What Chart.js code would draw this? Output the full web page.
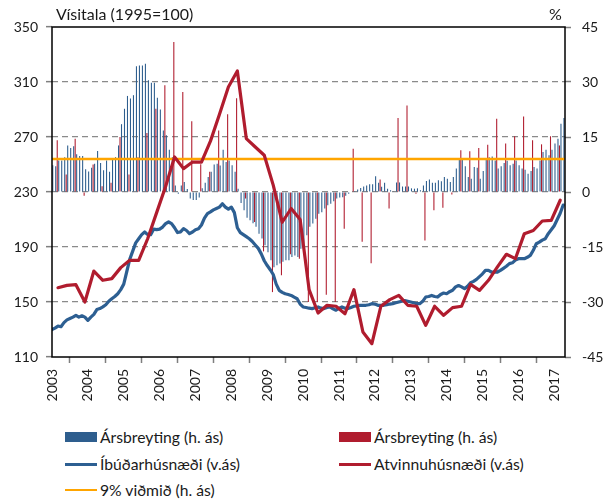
<!DOCTYPE html>
<html>
<head>
<meta charset="utf-8">
<script src="https://cdn.jsdelivr.net/npm/chart.js@4.4.0/dist/chart.umd.min.js"></script>
<style>
html,body{margin:0;padding:0;background:#fff;}
#wrap{position:relative;width:608px;height:504px;overflow:hidden;font-family:Lato,"Open Sans",sans-serif;color:#1a1a1a;}
#c{position:absolute;left:0;top:0;}
.t{position:absolute;font-size:16px;line-height:16px;white-space:nowrap;}
.leg{position:absolute;height:20px;display:flex;align-items:center;font-size:15.7px;white-space:nowrap;}
.sw{display:inline-block;width:32px;margin-right:3px;}
</style>
</head>
<body>
<div id="wrap">
  <canvas id="c" width="608" height="410" style="width:608px;height:410px"></canvas>
  <div class="t" style="left:56px;top:6px">Vísitala (1995=100)</div>
  <div class="t" style="left:549px;top:6px">%</div>

  <div class="leg" style="left:65px;top:427px"><span class="sw" style="height:10px;background:#2E5E8E"></span>Ársbreyting (h. ás)</div>
  <div class="leg" style="left:339px;top:427px"><span class="sw" style="height:10px;background:#B01C2E"></span>Ársbreyting (h. ás)</div>
  <div class="leg" style="left:65px;top:454px"><span class="sw" style="height:3px;background:#2D5F92"></span>Íbúðarhúsnæði (v.ás)</div>
  <div class="leg" style="left:339px;top:454px"><span class="sw" style="height:3px;background:#B01C2E"></span>Atvinnuhúsnæði (v.ás)</div>
  <div class="leg" style="left:65px;top:480px"><span class="sw" style="height:2px;background:#FFA500"></span>9% viðmið (h. ás)</div>
</div>
<script>
// ---- Data (monthly from Jan 2003, quarterly from Mar 2003) ----
const yearLabels = ['2003','2004','2005','2006','2007','2008','2009','2010','2011','2012','2013','2014','2015','2016','2017'];

// Residential price index (1995=100), monthly, left axis
const residentialIndex = [
  130,131,132.5,132,135,137,138,139,140.3,139,140,139,
  136.7,139,141,144.5,145.2,146.5,148,150.5,152.4,154,156,159,
  163,172,181,187,193,196,199,200.9,199,199,203,202.6,
  203,204.5,207,208.2,207,204,200.5,201,203.3,202,199.7,200.9,
  202.6,203.3,206,211,214.2,215.5,217,218,219,221.5,219,217.5,
  219,215,204,200.5,199,197.5,196,194,191.5,189,185,180,
  176.5,173.5,170,163,158.5,157,156,155.5,154.8,153.5,152.4,148.5,
  146.4,146,145.5,145.2,145.8,146.4,145.5,145.2,146,146.4,145,144,
  145.5,146.4,145.5,145.2,146,146.9,147.2,147.6,147.6,147.6,148,148.8,
  148.5,147.6,147.6,147.6,148,148.5,148.8,149.4,150,150.6,151,150.5,
  150,149.5,148.8,148.8,150.5,153.6,154,154.8,154,153.6,155.5,156.5,
  156,157.5,158.5,161,162,161,159.7,161.5,164,165,166.5,168.5,
  170.5,173,173,171.8,171.8,171.8,173,174.5,176,177.9,178.5,180.5,
  181.5,181.5,181.5,182.5,183.9,187.6,192.4,193.5,195,196,199.7,202.5,
  205.5,210,214.5,220.5
];

// Residential, annual change %, monthly, right axis
const residentialChange = [
  7.3,7.0,8.6,8.6,9.5,12.7,12.0,12.5,10.3,9.8,9.8,6.2,
  5.6,6.6,7.7,11.2,7.9,5.9,8.6,5.5,9.1,9.5,12.7,18.5,
  22.7,26.2,25.5,26.4,34.3,34.5,34.5,35.0,30.5,29.8,29.8,25.7,
  22.5,16.8,15.5,11.5,9.5,1.8,-0.5,1.8,2.7,0.8,-1.8,-2.2,
  -2.2,-1.5,1.0,2.5,4.1,5.5,7.5,7.7,7.2,11.5,8.2,8.6,
  7.3,5.5,0.9,-3.0,-5.0,-7.0,-7.7,-8.5,-9.5,-11.4,-12.7,-14.5,
  -16.4,-18.6,-20.5,-20.0,-19.5,-19.0,-18.6,-18.6,-17.7,-17.3,-17.7,-15.5,
  -14.1,-11.8,-9.5,-8.6,-7.3,-5.9,-5.5,-4.5,-3.6,-3.2,-2.5,-1.8,
  -1.5,-1.4,-1.0,-0.5,0.0,0.3,0.7,1.1,1.5,1.8,2.1,2.1,
  4.3,2.5,1.4,2.5,0.9,0.5,0.2,2.6,2.6,1.5,1.5,1.5,
  1.0,0.9,1.0,0.5,1.8,3.0,3.4,2.5,2.5,3.2,2.9,4.1,
  3.6,2.7,4.1,6.4,8.8,8.8,7.0,4.1,3.6,6.8,6.6,3.6,
  5.7,8.8,9.5,9.7,8.6,6.4,7.0,7.9,8.5,7.3,7.7,8.6,
  7.3,6.4,6.1,5.0,5.7,6.8,6.4,8.6,10.9,11.5,10.0,11.5,
  13.2,14.5,18.6,20.2
];

// Commercial property price index, quarterly (Mar 2003 ... Mar 2017), left axis
const commercialIndex = [
  160.4,162.1,162.6,150,
  172.5,165.8,167,175,
  180.3,180.3,196,215,
  234,255.5,247,251.8,
  251.8,267,286.3,306.4,
  318,268.8,262.7,256.7,
  235,208,218,210,
  159,142,147.6,146.9,
  141.5,159,128.2,119.7,
  146.9,151.7,154.8,147.6,
  146.9,133,146.9,140.3,
  145.9,146.9,162.8,158.5,
  165.8,175.5,184.7,181.5,
  199.7,202,208.9,209.4,
  224
];

// Commercial, annual change %, quarterly, right axis
const commercialChange = [
  14.1,4.8,14.5,-1.0,
  7.5,1.6,2.5,15.0,
  4.8,9.5,16.1,22.7,
  29.1,40.9,27.3,19.3,
  7.6,5.5,16.8,21.2,
  25.6,-1.8,-8.2,-16.2,
  -27.3,-22.7,-17.0,-18.2,
  -30.0,-30.0,-28.0,-30.0,
  -10.0,11.8,-13.6,-19.4,
  3.4,-4.5,20.2,23.6,
  -0.5,-13.2,-5.0,-4.3,
  -0.7,11.4,11.1,12.0,
  12.9,20.0,13.2,15.2,
  20.6,14.1,13.0,15.2,
  12.7
];

const benchmark = 9; // 9% viðmið

// ---- placement helpers ----
const firstQuarterMonth = 2;   // March 2003 = month index 2
const monthsPerQuarter = 3;
const xMin = 0, xMax = 171.6;

const resLine = residentialIndex.map((v, i) => ({x: i, y: v}));
const resBars = residentialChange.map((v, i) => ({x: i, y: v}));
const comLine = commercialIndex.map((v, k) => ({x: firstQuarterMonth + monthsPerQuarter * k, y: v}));
const comBars = commercialChange.map((v, k) => ({x: firstQuarterMonth + monthsPerQuarter * k, y: v}));
const benchLine = [{x: xMin, y: benchmark}, {x: xMax, y: benchmark}];

const BLUE = '#2D5F92', BLUEBAR = '#2E5E8E', RED = '#B01C2E', ORANGE = '#FFA500';

Chart.defaults.font.family = 'Lato, "Open Sans", sans-serif';
Chart.defaults.font.size = 14;
Chart.defaults.color = '#1a1a1a';

const framePlugin = {
  id: 'frame',
  afterDatasetsDraw(chart) {
    const {ctx, chartArea: a} = chart;
    ctx.save();
    ctx.strokeStyle = '#000';
    ctx.lineWidth = 1.5;
    ctx.strokeRect(a.left, a.top, a.right - a.left, a.bottom - a.top);
    ctx.restore();
  }
};

new Chart(document.getElementById('c'), {
  data: {
    datasets: [
      {type: 'line', label: 'Atvinnuhúsnæði (v.ás)', data: comLine, yAxisID: 'y',
       borderColor: RED, borderWidth: 3.2, pointRadius: 0, tension: 0, order: 1,
       borderJoinStyle: 'round', borderCapStyle: 'round'},
      {type: 'line', label: 'Íbúðarhúsnæði (v.ás)', data: resLine, yAxisID: 'y',
       borderColor: BLUE, borderWidth: 3.2, pointRadius: 0, tension: 0, order: 2,
       borderJoinStyle: 'round', borderCapStyle: 'round'},
      {type: 'line', label: '9% viðmið (h. ás)', data: benchLine, yAxisID: 'y1',
       borderColor: ORANGE, borderWidth: 2.5, pointRadius: 0, order: 3},
      {type: 'bar', label: 'Ársbreyting (h. ás)', data: comBars, yAxisID: 'y1',
       backgroundColor: RED, borderWidth: 0, order: 4,
       categoryPercentage: 1.0, barPercentage: 0.72},
      {type: 'bar', label: 'Ársbreyting (h. ás)', data: resBars, yAxisID: 'y1',
       backgroundColor: BLUEBAR, borderWidth: 0, order: 5,
       categoryPercentage: 1.0, barPercentage: 0.72}
    ]
  },
  options: {
    responsive: false,
    animation: false,
    layout: {padding: {top: 27, left: 0, right: 0, bottom: 0}},
    plugins: {legend: {display: false}, tooltip: {enabled: false}},
    scales: {
      x: {
        type: 'linear', min: xMin, max: xMax, offset: false,
        afterFit: s => { s.height = 53; },
        grid: {drawOnChartArea: false, drawTicks: true, tickLength: 6, tickColor: '#7f7f7f', tickWidth: 1.5},
        border: {display: false},
        ticks: {
          stepSize: 12, includeBounds: false, autoSkip: false,
          minRotation: 90, maxRotation: 90, padding: 6,
          callback: v => (v % 12 === 0 ? (yearLabels[v / 12] || '') : '')
        }
      },
      y: {
        position: 'left', min: 110, max: 350,
        afterFit: s => { s.width = 52; },
        grid: {
          color: c => (c.tick && (c.tick.value === 110 || c.tick.value === 350)) ? 'rgba(0,0,0,0)' : '#8a8a8a',
          lineWidth: 1.3, drawTicks: true, tickLength: 6, tickColor: '#7f7f7f', tickWidth: 1.5
        },
        border: {display: false, dash: [6, 4]},
        ticks: {stepSize: 40, padding: 8}
      },
      y1: {
        position: 'right', min: -45, max: 45,
        afterFit: s => { s.width = 43; },
        grid: {drawOnChartArea: false, drawTicks: true, tickLength: 6, tickColor: '#7f7f7f', tickWidth: 1.5},
        border: {display: false},
        ticks: {stepSize: 15, padding: 11}
      }
    }
  },
  plugins: [framePlugin]
});
</script>
</body>
</html>
